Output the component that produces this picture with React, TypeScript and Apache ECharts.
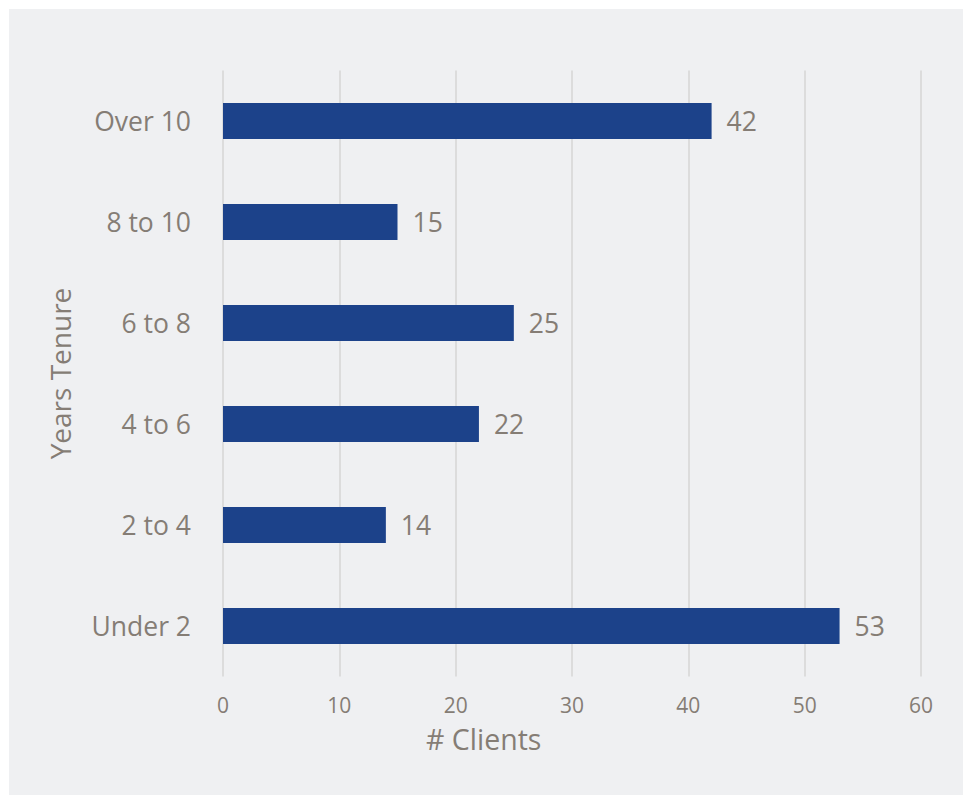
import React, { useEffect, useRef } from "react";
import * as echarts from "echarts";

const categories = ["Under 2", "2 to 4", "4 to 6", "6 to 8", "8 to 10", "Over 10"];
const clients = [53, 14, 22, 25, 15, 42];
const xTicks = [0, 10, 20, 30, 40, 50, 60];

const FONT = "'Open Sans', sans-serif";
const TEXT = "#857d75";

export default function App() {
  const ref = useRef<HTMLDivElement>(null);
  useEffect(() => {
    if (!ref.current) return;
    document.body.style.overflow = "hidden";
    const chart = echarts.init(ref.current, null, { renderer: "svg" });
    chart.setOption({
      animation: false,
      backgroundColor: "#eff0f2",
      textStyle: { fontFamily: FONT },
      grid: { left: 214, right: 50, top: 61.5, bottom: 118.5, containLabel: false },
      xAxis: {
        type: "value",
        min: xTicks[0],
        max: xTicks[xTicks.length - 1],
        interval: 10,
        axisLine: { show: false },
        axisTick: { show: false },
        splitLine: { show: true, lineStyle: { color: "#dcdcdc", width: 2 } },
        axisLabel: { color: TEXT, fontSize: 21, margin: 18, fontFamily: FONT },
      },
      yAxis: {
        type: "category",
        data: categories,
        name: "Years Tenure",
        nameLocation: "middle",
        nameGap: 149,
        nameTextStyle: { color: TEXT, fontSize: 28, fontFamily: FONT },
        axisLine: { show: false },
        axisTick: { show: false },
        axisLabel: { color: TEXT, fontSize: 26.5, margin: 32, fontFamily: FONT },
      },
      graphic: [
        {
          type: "text",
          left: 417,
          top: 715,
          style: { text: "# Clients", fill: TEXT, fontSize: 28.5, fontFamily: FONT },
        },
      ],
      series: [
        {
          type: "bar",
          data: clients,
          barWidth: "35.5%",
          itemStyle: { color: "#1c428a" },
          label: {
            show: true,
            position: "right",
            distance: 15,
            color: TEXT,
            fontSize: 26.5,
            fontFamily: FONT,
          },
        },
      ],
    });
    return () => chart.dispose();
  }, []);
  return (
    <div
      ref={ref}
      style={{ width: 962, height: 786, marginLeft: 1, marginTop: 1 }}
    />
  );
}
